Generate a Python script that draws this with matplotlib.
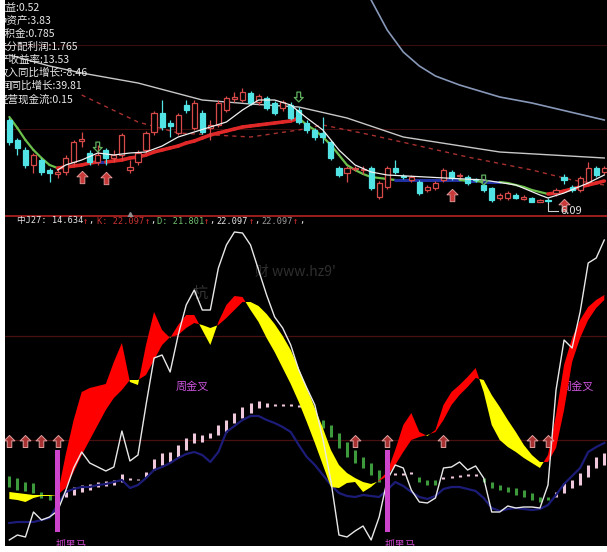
import matplotlib
matplotlib.use("Agg")
import matplotlib.pyplot as plt
from matplotlib.patches import Rectangle
from matplotlib.path import Path
import numpy as np

plt.rcParams['font.family'] = ['Noto Sans CJK SC', 'DejaVu Sans']

W, H = 607, 552
idx = np.arange(75)

# ---------------- price panel data ----------------
opens = [6.92, 6.72, 6.62, 6.47, 6.52, 6.42, 6.38, 6.40, 6.50, 6.71,
         6.59, 6.50, 6.62, 6.54, 6.57, 6.42, 6.50, 6.62, 6.80, 6.99,
         6.89, 6.79, 7.07, 6.84, 6.99, 6.84, 6.87, 7.02, 7.13, 7.12,
         7.19, 7.10, 7.14, 7.09, 7.04, 7.07, 7.02, 6.89, 6.82, 6.79,
         6.70, 6.44, 6.39, 6.43, 6.42, 6.44, 6.15, 6.25, 6.44, 6.36,
         6.32, 6.30, 6.22, 6.24, 6.32, 6.40, 6.36, 6.35, 6.33, 6.27,
         6.24, 6.14, 6.14, 6.17, 6.13, 6.14, 6.10, 6.12, 6.19, 6.35,
         6.25, 6.22, 6.30, 6.44, 6.40]
closes = [6.70, 6.64, 6.47, 6.57, 6.40, 6.39, 6.40, 6.54, 6.70, 6.73,
          6.50, 6.57, 6.54, 6.57, 6.77, 6.45, 6.59, 6.79, 6.99, 6.85,
          6.86, 6.97, 7.02, 7.09, 6.80, 6.87, 7.09, 7.14, 7.15, 7.20,
          7.09, 7.16, 7.04, 6.99, 7.10, 6.94, 6.90, 6.82, 6.75, 6.75,
          6.54, 6.37, 6.44, 6.44, 6.43, 6.24, 6.29, 6.44, 6.40, 6.35,
          6.35, 6.19, 6.25, 6.29, 6.42, 6.34, 6.37, 6.29, 6.32, 6.22,
          6.12, 6.17, 6.19, 6.14, 6.15, 6.10, 6.12, 6.11, 6.22, 6.32,
          6.22, 6.34, 6.44, 6.37, 6.44]
highs = [6.94, 6.74, 6.65, 6.59, 6.54, 6.44, 6.44, 6.57, 6.72, 6.80,
         6.62, 6.67, 6.64, 6.62, 6.79, 6.52, 6.62, 6.81, 7.01, 7.12,
         6.92, 6.99, 7.12, 7.12, 7.02, 6.92, 7.12, 7.16, 7.20, 7.24,
         7.21, 7.18, 7.16, 7.11, 7.12, 7.10, 7.05, 6.92, 6.84, 6.95,
         6.72, 6.46, 6.46, 6.46, 6.46, 6.46, 6.31, 6.46, 6.52, 6.38,
         6.37, 6.32, 6.27, 6.31, 6.44, 6.42, 6.39, 6.37, 6.34, 6.28,
         6.25, 6.19, 6.21, 6.19, 6.17, 6.15, 6.13, 6.14, 6.24, 6.38,
         6.27, 6.36, 6.50, 6.46, 6.46]
lows = [6.67, 6.57, 6.44, 6.39, 6.37, 6.30, 6.34, 6.37, 6.47, 6.65,
        6.47, 6.47, 6.47, 6.50, 6.52, 6.39, 6.47, 6.59, 6.77, 6.82,
        6.75, 6.77, 6.99, 6.82, 6.78, 6.72, 6.85, 7.00, 7.10, 7.10,
        7.07, 7.07, 7.02, 6.97, 7.01, 6.92, 6.88, 6.79, 6.72, 6.69,
        6.52, 6.35, 6.30, 6.41, 6.38, 6.22, 6.13, 6.23, 6.38, 6.33,
        6.30, 6.17, 6.20, 6.22, 6.30, 6.32, 6.34, 6.27, 6.30, 6.20,
        6.10, 6.12, 6.12, 6.13, 6.12, 6.10, 6.10, 6.09, 6.16, 6.28,
        6.20, 6.20, 6.28, 6.35, 6.38]

# trend MA, drawn red when rising, green when falling, blue when flat
ma_trend = [6.95, 6.84, 6.72, 6.62, 6.54, 6.47, 6.44, 6.45, 6.46, 6.47,
            6.49, 6.50, 6.50, 6.51, 6.52, 6.54, 6.55, 6.57, 6.60, 6.62,
            6.64, 6.66, 6.69, 6.71, 6.74, 6.77, 6.79, 6.81, 6.83, 6.85,
            6.86, 6.87, 6.88, 6.89, 6.90, 6.91, 6.94, 6.87, 6.82, 6.75,
            6.67, 6.57, 6.47, 6.42, 6.38, 6.35, 6.34, 6.33, 6.32, 6.32,
            6.32, 6.32, 6.32, 6.32, 6.32, 6.32, 6.32, 6.31, 6.31, 6.30,
            6.30, 6.30, 6.29, 6.27, 6.25, 6.22, 6.20, 6.18, 6.19, 6.21,
            6.23, 6.25, 6.27, 6.29, 6.31]

ma_short_x = [6, 7, 9, 11, 13, 15, 17, 19, 21, 23, 25, 27, 29, 31, 33, 35, 37,
              39, 41, 43, 45, 47, 59, 63, 66, 67, 69, 72, 74]
ma_short = [6.42, 6.47, 6.52, 6.59, 6.57, 6.59, 6.60, 6.66, 6.75, 6.80, 6.85,
            6.90, 7.02, 7.12, 7.12, 7.07, 6.94, 6.82, 6.62, 6.47, 6.40, 6.37,
            6.32, 6.27, 6.17, 6.14, 6.19, 6.29, 6.37]

ma_long_x = [0, 5, 9, 16, 24, 30, 36, 42, 49, 61, 74]
ma_long = [7.57, 7.46, 7.39, 7.29, 7.12, 7.08, 7.05, 6.94, 6.75, 6.60, 6.54]

ma_dash_x = [9, 16, 21, 30, 36, 39, 45, 57, 65, 70, 74]
ma_dash = [7.17, 6.90, 6.79, 6.75, 6.82, 6.87, 6.77, 6.55, 6.42, 6.32, 6.27]

ma_top_x = [45, 47, 49, 51, 53, 56, 61, 65, 74]
ma_top = [8.12, 7.82, 7.60, 7.46, 7.36, 7.27, 7.15, 7.09, 6.92]

buy_x = [9, 12, 55, 69]
buy_y = [6.35, 6.34, 6.17, 6.07]
sell_x = [11, 36, 59]
sell_y = [6.65, 7.15, 6.32]

low_idx, low_price = 67, 6.09

fin_lines = ["收益:0.52", "净资产:3.83", "公积金:0.785", "未分配利润:1.765",
             "产收益率:13.53", "收入同比增长:-8.46", "润同比增长:39.81",
             "经营现金流:0.15"]
fin_left_px = [-5, -4, -6, -3, -1, -3, 1, -2]

# ---------------- indicator panel data ----------------
j_line = [-20, -17.5, -18.5, -6, -10, -8.5, -5.5, 4.5, 16, 24,
          18.5, 16.5, 14.5, 16.5, 34.5, 19.5, 22.5, 47.5, 71, 72.5,
          64, 82.5, 97.5, 105, 95, 95, 116, 127.5, 134, 133.5,
          127.5, 115, 102.5, 91.5, 86, 77.5, 65, 56, 47.5, 30.5,
          9.5, -17.5, -18.5, -15.5, -13, -20, -8.5, 10, 17.5, 16,
          5, -1, -1.5, 1, 16, 16.5, 19, 15, 17, 11,
          -6, -6, -3, -4, -3.5, -3.5, -4, 7.5, 55, 80,
          76, 94, 118.5, 121, 130]
k_line = [0.5, 0, -1, 1, 2, 2, 2.5, 22.5, 40, 54,
          56, 57, 58, 69, 78.5, 59, 57.5, 77.5, 94, 85,
          81, 87.5, 92.5, 92.5, 85, 77.5, 89, 97.5, 102, 101.5,
          95, 89, 81, 74, 66, 58, 49, 39, 28.5, 17.5,
          6.5, 6, 8.5, 9, 4, 6.5, 10, 14, 25, 37.5,
          43.5, 34, 32, 35, 47.5, 54, 57.5, 61.5, 66, 54,
          37.5, 30, 26.5, 24, 21, 18.5, 16, 22.5, 42.5, 67.5,
          81, 90, 96.5, 100, 102.5]
d_line = [4, 3.5, 3, 2.5, 2.5, 2.5, 2.5, 6, 14, 22.5,
          30, 37.5, 45, 51, 55, 60, 60, 62.5, 70, 77.5,
          81.5, 82.5, 86, 88.5, 87.5, 86, 87.5, 91, 95, 99,
          99, 97, 93, 88, 82, 75, 66, 56, 46, 36,
          25, 17.5, 13.5, 11, 9, 8, 9.5, 12, 17.5, 24,
          30, 31.5, 32.5, 34, 40, 47.5, 52.5, 56.5, 61, 60,
          52.5, 46.5, 40, 34, 27.5, 22.5, 19, 19, 26, 45,
          69, 81, 90, 96, 100]
blue_line = [-11.5, -11, -11, -11, -10, -9, -2.5, 4, 5.5, 6.5,
             6.5, 7.5, 8, 9, 10, 6, 7.5, 11, 15, 16.5,
             18.5, 21, 23, 24, 22.5, 19, 24, 34, 37, 40,
             42, 42, 40, 38.5, 36.5, 34, 27.5, 21.5, 17.5, 12.5,
             7.5, 3.5, 2, 1.5, 2.5, 2, 1.5, 5, 9, 7,
             4, 1.5, 0.5, 2, 5.5, 6.5, 6.5, 5.5, 4.5, 1,
             -4, -5.5, -4.5, -4, -4.5, -5, -4.5, -2.5, 2.5, 8,
             12, 16, 24, 26.5, 28.5]
stick_hi = [12, 11, 9, 8.5, 4, 2.5, 5, 5, 6.5, 7.5,
            8, 9, 9.5, 10, 13, 11, 10.5, 14, 20.5, 23.5,
            24, 27.5, 31, 33.5, 32.5, 33.5, 37.5, 40, 43.5, 46.5,
            48.5, 49.5, 48.5, 48, 48, 48, 47.5, 47, 43.5, 40,
            37.5, 33.5, 29, 25, 21.5, 18.5, 15, 13.5, 13.5, 13.5,
            14, 11.5, 10, 10, 11.5, 12, 12.5, 13, 13, 11,
            9, 7.5, 6.5, 6, 5, 3.5, 1.5, 1.5, 4, 8.5,
            10, 13.5, 17.5, 21.5, 23.5]
stick_lo = [6.5, 5, 4.5, 3.5, 1, 0, 1.5, 1.5, 2.5, 4,
            5, 6.5, 7, 7.5, 9, 10, 10, 11.5, 15, 17.5,
            19, 21.5, 25, 28.5, 29, 31, 32.5, 34, 38.5, 41,
            43.5, 46, 46.5, 47, 47, 47, 46.5, 45, 38.5, 36,
            31.5, 26, 21.5, 18.5, 16, 12.5, 9, 12, 12.5, 12.5,
            13, 9, 7.5, 7.5, 10.5, 11, 11.5, 12, 12, 9,
            6, 5, 4, 2.5, 1.5, 0, -1, 0, 1.5, 3.5,
            6, 7.5, 11.5, 16, 17.5]
stick_trend = [-1] * 6 + [1] * 32 + [-1] * 9 + [1] * 4 + [-1] * 3 + [1] * 5 + [-1] * 9 + [1] * 7

horse_x = [6, 47]
horse_top, horse_bottom = 25, -16
arrow_x = [0, 2, 4, 6, 43, 47, 54, 65, 67]
arrow_y = [29.5] * 9
level_lines = [82, 30]

header = [(17, "中J27: 14.634", "#e6e6e6"), (83, "↑", "#e03030"), (88, ",", "#e6e6e6"),
          (97, "K: 22.097", "#c83232"), (145, "↑", "#e03030"), (150, ",", "#e6e6e6"),
          (157, "D: 21.801", "#70c070"), (204, "↑", "#e03030"), (209, ",", "#e6e6e6"),
          (216, "22.097", "#e6e6e6"), (249, "↑", "#e03030"), (254, ",", "#e6e6e6"),
          (261, "22.097", "#9a9a9a"), (293, "↑", "#e03030"), (299, ",", "#e6e6e6")]

# ---------------- figure ----------------
fig = plt.figure(figsize=(W / 100, H / 100), dpi=100, facecolor="white")
ax1 = fig.add_axes([5 / W, 1 - 217 / H, 602 / W, 217 / H], facecolor="black")
ax2 = fig.add_axes([5 / W, 6 / H, 602 / W, 329 / H], facecolor="black")
xlim = (-0.54, 74.34)
for ax in (ax1, ax2):
    ax.set_xlim(*xlim)
    ax.set_xticks([])
    ax.set_yticks([])
    for s in ax.spines.values():
        s.set_visible(False)
ax1.set_ylim(5.95, 8.12)
ax2.set_ylim(-23, 141.5)

# --- price panel ---
for y in (7.67, 6.83):
    ax1.axhline(y, color="#3a0c0c", lw=0.8, zorder=0)
ax1.axhline(5.96, color="#a82020", lw=1.3, zorder=1)
ax1.plot([15], [5.975], marker="^", ms=4, color="#909090", zorder=2)

ax1.plot(ma_top_x, ma_top, color="#8898b8", lw=1.2, zorder=1)
ax1.plot(ma_long_x, ma_long, color="#c8c8c8", lw=1.0, zorder=1)
ax1.plot(ma_dash_x, ma_dash, color="#a83030", lw=1.0, ls=(0, (3, 3)), zorder=1)
for i in range(len(ma_trend) - 1):
    d = ma_trend[i + 1] - ma_trend[i]
    if d > 0.004:
        c, lw = "#e02828", 2.6
    elif d < -0.004:
        c, lw = "#6cc04c", 1.6
    else:
        c, lw = "#2030a0", 2.2
    ax1.plot([idx[i], idx[i + 1]], [ma_trend[i], ma_trend[i + 1]], color=c, lw=lw,
             solid_capstyle="round", zorder=2)
ax1.plot(ma_short_x, ma_short, color="#f0f0f0", lw=0.9, zorder=4)

for i in idx:
    o, h, l, c = opens[i], highs[i], lows[i], closes[i]
    up = c >= o
    col = "#d84a4a" if up else "#52e4e4"
    ax1.vlines(i, l, h, color=col, lw=0.9, zorder=3)
    ax1.add_patch(Rectangle((i - 0.32, min(o, c)), 0.64, max(abs(c - o), 0.006),
                            facecolor="black" if up else col, edgecolor=col,
                            lw=0.9, zorder=3))

up_arrow = Path([(0, 1), (0.9, 0.1), (0.38, 0.1), (0.38, -1), (-0.38, -1),
                 (-0.38, 0.1), (-0.9, 0.1), (0, 1)],
                [Path.MOVETO] + [Path.LINETO] * 6 + [Path.CLOSEPOLY])
down_arrow = Path(up_arrow.vertices * [1, -1], up_arrow.codes)
ax1.scatter(buy_x, buy_y, marker=up_arrow, s=80, facecolor="#c83a3a",
            edgecolor="#e8a0a0", lw=0.6, zorder=5)
ax1.scatter(sell_x, sell_y, marker=down_arrow, s=50, facecolor="none",
            edgecolor="#60b060", lw=0.9, zorder=5)

ax1.plot([low_idx, low_idx, low_idx + 1.3], [low_price, 6.01, 6.01],
         color="#d0d0d0", lw=0.8, zorder=5)
ax1.text(low_idx + 1.5, 6.01, "6.09", color="#e0e0e0", fontsize=8,
         va="center", ha="left", zorder=6)

for k, (s, px) in enumerate(zip(fin_lines, fin_left_px)):
    py = 8 + 13 * k
    ax1.text((px - 5) / 602, 1 - py / 217, s, transform=ax1.transAxes,
             color="#e8e8e8", fontsize=7.6, va="center", ha="left",
             clip_on=True, zorder=7)

# --- header of indicator panel ---
for px, s, c in header:
    fig.text(px / W, 1 - 221 / H, s, color=c, fontsize=6.2, va="center", ha="left",
             family=["DejaVu Sans Mono", "Noto Sans CJK SC"])

# --- indicator panel ---
for y in level_lines:
    ax2.axhline(y, color="#4a1010", lw=0.9, zorder=0)

ax2.text(23.7, 103.5, "杭", color="#343434", fontsize=11, ha="center", va="center", zorder=0)
ax2.text(30.6, 114, "财 www.hz9'", color="#2e2e2e", fontsize=10, ha="left", va="center", zorder=0)

stick_colors = ["#f0c8dc" if t > 0 else "#3c9a3c" for t in stick_trend]
ax2.vlines(idx, stick_lo, stick_hi, colors=stick_colors, lw=2.2, zorder=2)

ax2.plot(idx, blue_line, color="#1c1c78", lw=1.6, zorder=2)

ax2.text(22.7, 56.5, "周金叉", color="#cc55dd", fontsize=8, ha="center", va="center", zorder=2)
ax2.text(70.7, 56.5, "周金叉", color="#cc55dd", fontsize=8, ha="center", va="center", zorder=2)

K = np.array(k_line)
D = np.array(d_line)
ax2.fill_between(idx, K, D, where=K >= D, interpolate=True, color="#ff0000", lw=0, zorder=3)
ax2.fill_between(idx, K, D, where=K <= D, interpolate=True, color="#ffff00", lw=0, zorder=3)

ax2.plot(idx, j_line, color="#e8e8e8", lw=1.0, zorder=4)

ax2.bar(horse_x, horse_top - horse_bottom, bottom=horse_bottom, width=0.62,
        color="#cc44cc", zorder=5)
for hx in horse_x:
    ax2.text(hx - 0.3, -22.3, "抓黑马", color="#cc44cc", fontsize=7.5,
             ha="left", va="center", clip_on=True, zorder=5)

ax2.scatter(arrow_x, arrow_y, marker=up_arrow, s=75, facecolor="#a83232",
            edgecolor="#e0a0a0", lw=0.7, zorder=6)

fig.savefig("out.png", dpi=100, facecolor="white")
